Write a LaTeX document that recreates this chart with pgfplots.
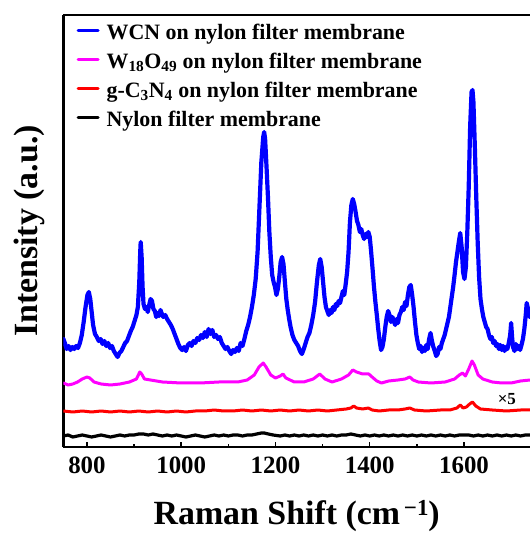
\documentclass[border=0pt]{standalone}
\usepackage{pgfplots}
\pgfplotsset{compat=1.18}
\usepackage{fontspec}
\setmainfont{Liberation Serif}
\definecolor{cblue}{RGB}{0,0,255}
\definecolor{cmag}{RGB}{255,0,255}
\definecolor{cred}{RGB}{255,0,0}
\begin{document}
\begin{tikzpicture}
\begin{axis}[
  width=466.6bp, height=432bp, scale only axis,
  xmin=750, xmax=1740, ymin=0, ymax=432,
  axis x line=box, axis y line=left,
  axis line style={-, line width=2.6bp},
  ytick=\empty,
  xtick={800,1000,1200,1400,1600},
  minor x tick num=1,
  xtick pos=bottom,
  tick align=inside,
  major tick length=5bp, minor tick length=3bp,
  every tick/.style={black, line width=1.5bp},
  /pgf/number format/assume math mode=true,
  /pgf/number format/1000 sep={},
  xticklabel style={font=\fontsize{25}{25}\selectfont\bfseries, yshift=-6bp},
  xlabel={Raman Shift (cm\raisebox{0.6ex}{\fontsize{23}{23}\selectfont\,−1})},
  xlabel style={font=\fontsize{34}{34}\selectfont\bfseries, yshift=-20bp},
  ylabel={Intensity (a.u.)},
  ylabel style={font=\fontsize{34}{34}\selectfont\bfseries, yshift=15bp},
  legend style={at={(axis description cs:0,1)}, anchor=north west,
    xshift=13bp, yshift=-6bp, draw=none, fill=none, inner sep=0pt,
    font=\fontsize{22}{22}\selectfont\bfseries,
    nodes={text height=16bp, text depth=5bp, inner sep=2bp},
    row sep=4bp, column sep=5bp},
  legend cell align=left,
  legend image code/.code={\draw[#1, line width=3bp] (0bp,0.3em) -- (20bp,0.3em);},
  every axis plot/.append style={line join=round, line cap=round},
]
\addplot[cblue, line width=4.2bp] coordinates {
(750,108)(753,104)(757,98)(761,101)(765,97)(769,100)(773,98)(777,101)(781,99)(785,104)
(789,112)(793,125)(797,140)(801,152)(804,155)(807,148)(810,135)(813,122)(817,113)(821,110)
(825,106)(829,108)(833,103)(837,106)(841,101)(845,104)(849,99)(853,101)(857,96)(861,93)
(865,90)(869,94)(873,96)(877,100)(881,104)(885,106)(889,111)(893,116)(897,120)(901,126)
(905,132)(908,140)(911,165)(913,195)(914,205)(916,190)(918,160)(920,143)(923,138)(926,140)
(929,135)(932,142)(935,148)(938,146)(941,138)(944,136)(947,130)(950,134)(953,131)(956,137)
(959,133)(962,130)(966,132)(970,128)(974,125)(978,122)(982,118)(986,113)(990,108)(994,103)
(998,99)(1002,97)(1006,100)(1010,96)(1014,102)(1018,104)(1022,101)(1026,106)(1030,104)(1034,109)
(1038,107)(1042,112)(1046,109)(1050,115)(1054,110)(1058,118)(1062,113)(1066,117)(1070,110)(1074,112)
(1078,108)(1082,110)(1086,104)(1090,101)(1094,98)(1098,100)(1102,96)(1106,93)(1110,97)(1114,95)
(1118,99)(1122,96)(1126,104)(1130,101)(1134,108)(1138,116)(1142,122)(1146,130)(1150,140)(1154,152)
(1158,168)(1162,195)(1166,240)(1170,285)(1174,310)(1176,315)(1178,308)(1181,280)(1184,250)(1187,215)
(1190,190)(1193,172)(1196,165)(1199,160)(1202,152)(1205,158)(1208,170)(1211,185)(1214,190)(1217,183)
(1220,165)(1223,148)(1226,137)(1229,128)(1232,120)(1236,112)(1240,107)(1244,104)(1248,101)(1252,96)
(1256,93)(1260,98)(1264,104)(1268,110)(1272,114)(1276,122)(1280,132)(1284,145)(1288,165)(1292,182)
(1295,188)(1298,180)(1301,165)(1304,150)(1307,140)(1310,136)(1313,132)(1316,137)(1319,134)(1322,140)
(1325,137)(1328,143)(1331,141)(1334,146)(1337,144)(1340,150)(1343,156)(1346,152)(1349,163)(1352,175)
(1355,195)(1358,225)(1361,242)(1364,248)(1367,243)(1370,235)(1373,226)(1376,222)(1379,215)(1382,218)
(1385,212)(1388,208)(1391,213)(1394,210)(1397,215)(1400,210)(1403,195)(1406,178)(1409,160)(1412,145)
(1415,132)(1418,118)(1421,106)(1424,97)(1427,100)(1430,108)(1433,120)(1436,130)(1439,136)(1442,132)
(1445,125)(1448,130)(1451,126)(1454,122)(1457,128)(1460,124)(1463,132)(1466,135)(1469,140)(1472,137)
(1475,145)(1478,141)(1481,152)(1484,160)(1487,162)(1490,152)(1493,140)(1496,125)(1499,112)(1502,104)
(1505,98)(1508,101)(1511,95)(1514,99)(1517,96)(1520,102)(1523,98)(1526,108)(1529,114)(1532,106)
(1535,100)(1538,96)(1541,91)(1544,93)(1547,100)(1550,98)(1553,104)(1556,108)(1559,112)(1562,118)
(1565,124)(1568,130)(1571,140)(1574,150)(1577,160)(1580,172)(1583,185)(1586,195)(1589,205)(1592,214)
(1595,200)(1598,175)(1601,168)(1604,180)(1607,215)(1610,260)(1613,320)(1616,355)(1618,357)(1620,345)
(1623,300)(1626,250)(1629,205)(1632,170)(1635,148)(1638,138)(1641,130)(1644,125)(1647,120)(1650,118)
(1653,112)(1656,108)(1659,110)(1662,104)(1665,106)(1668,101)(1671,103)(1674,98)(1677,102)(1680,97)
(1683,101)(1686,96)(1689,100)(1692,98)(1695,104)(1698,112)(1700,124)(1702,110)(1704,100)(1707,96)
(1710,103)(1713,98)(1716,101)(1719,97)(1722,102)(1725,108)(1728,118)(1731,132)(1733,144)(1736,138)
(1740,130)};
\addlegendentry{WCN on nylon filter membrane}
\addplot[cmag, line width=3bp] coordinates {
(750,64)(760,62)(770,63)(780,65)(790,68)(800,70)(806,69)(815,65)(830,63)(850,62)
(870,63)(890,65)(905,68)(912,75)(916,73)(922,68)(935,67)(960,65)(1000,64)(1040,64)
(1080,65)(1120,65)(1140,67)(1155,72)(1165,80)(1174,84)(1180,80)(1190,72)(1200,69)(1210,71)
(1216,73)(1222,69)(1240,65)(1260,65)(1280,68)(1294,73)(1305,68)(1320,65)(1340,68)(1355,72)
(1364,77)(1372,75)(1385,73)(1398,73)(1405,70)(1415,66)(1425,64)(1440,66)(1460,67)(1475,68)
(1485,70)(1492,67)(1503,65)(1530,64)(1560,65)(1580,68)(1590,72)(1597,74)(1603,71)(1610,78)
(1617,86)(1622,82)(1630,72)(1640,68)(1660,65)(1680,64)(1700,64)(1720,66)(1740,67)};
\addlegendentry{W\textsubscript{18}O\textsubscript{49} on nylon filter membrane}
\addplot[cred, line width=3bp] coordinates {
(750,36)(770,35)(790,36)(810,35)(830,36)(850,35)(870,36)(890,35)(910,36)(930,35)
(950,36)(970,35)(990,36)(1010,35)(1030,36)(1050,36)(1070,37)(1090,36)(1110,36)(1130,37)
(1150,36)(1170,37)(1190,36)(1210,37)(1230,36)(1250,37)(1270,36)(1290,37)(1310,36)(1330,37)
(1350,38)(1360,39)(1366,41)(1372,39)(1385,38)(1397,39)(1405,37)(1420,36)(1440,37)(1460,37)
(1475,38)(1485,39)(1495,37)(1520,36)(1550,37)(1570,37)(1585,39)(1592,42)(1598,39)(1605,40)
(1612,43)(1618,45)(1625,41)(1635,38)(1660,37)(1690,36)(1720,37)(1740,37)};
\addlegendentry{g-C\textsubscript{3}N\textsubscript{4} on nylon filter membrane}
\addplot[black, line width=3.2bp] coordinates {
(750,11)(760,12)(770,10)(780,11)(790,12)(800,11)(810,10)(820,11)(830,12)(840,11)
(850,10)(860,11)(870,12)(880,11)(890,12)(900,12)(910,13)(920,13)(930,12)(940,13)
(950,12)(960,11)(970,12)(980,11)(990,12)(1000,11)(1010,10)(1020,11)(1030,12)(1040,11)
(1050,10)(1060,11)(1070,12)(1080,11)(1090,12)(1100,11)(1110,12)(1120,12)(1130,11)(1140,12)
(1150,12)(1160,13)(1170,14)(1176,14)(1185,13)(1195,12)(1210,11)(1220,12)(1230,11)(1240,12)
(1250,11)(1260,12)(1270,11)(1280,12)(1290,11)(1300,12)(1310,11)(1320,12)(1330,11)(1340,12)
(1350,12)(1360,13)(1370,12)(1380,11)(1390,12)(1400,11)(1410,12)(1420,11)(1430,12)(1440,11)
(1450,12)(1460,11)(1470,12)(1480,11)(1490,12)(1500,11)(1510,12)(1520,11)(1530,12)(1540,11)
(1550,12)(1560,11)(1570,12)(1580,11)(1590,12)(1600,12)(1610,12)(1620,11)(1630,12)(1640,11)
(1650,12)(1660,11)(1670,12)(1680,11)(1690,12)(1700,11)(1710,12)(1720,11)(1730,12)(1740,12)};
\addlegendentry{Nylon filter membrane}
\node[font=\fontsize{17}{17}\selectfont\bfseries] at (axis cs:1691,48) {×5};
\coordinate (SW) at (rel axis cs:0,0);
\coordinate (NE) at (rel axis cs:1,1);
\end{axis}
\pgfresetboundingbox
\path[use as bounding box] ([xshift=-63.4bp,yshift=-97bp]SW) rectangle ([yshift=15bp]NE);
\end{tikzpicture}
\end{document}
